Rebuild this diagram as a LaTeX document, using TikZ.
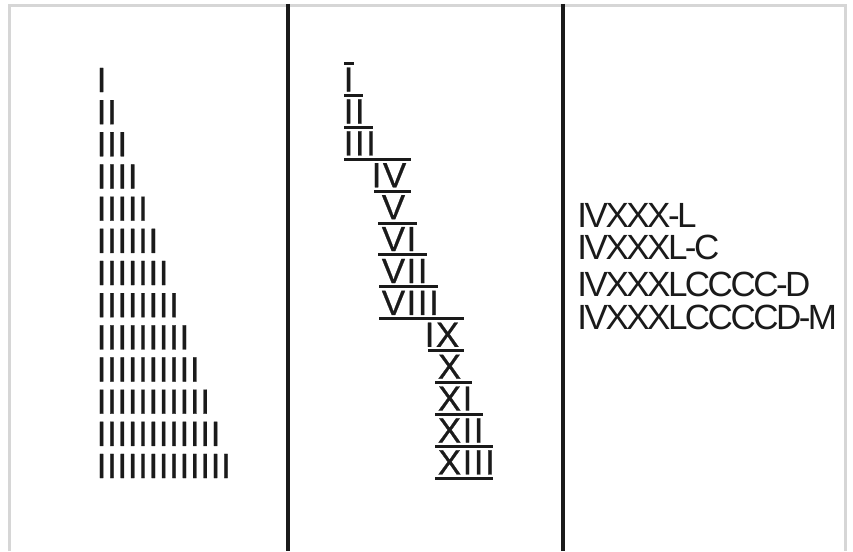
\documentclass[tikz,border=0pt]{standalone}
\usepackage{fontspec}
\setmainfont{Liberation Sans}
\newfontfamily\numfont[FakeBold=0.6]{Liberation Sans}
\newfontfamily\plainfont{Liberation Sans}
\def\lsp#1{\def\lspamt{#1}\lspA}
\def\lspA#1{\ifx#1\relax\else#1\kern\lspamt\expandafter\lspA\fi}
\definecolor{ink}{HTML}{1A1A1A}
\definecolor{framegray}{HTML}{D6D6D6}
\tikzset{
  glyphs/.style={anchor=base west, inner sep=0pt, outer sep=0pt, text=ink, font=\numfont\fontsize{35}{35}\selectfont},
  plainglyphs/.style={glyphs, font=\plainfont\fontsize{35}{35}\selectfont},
  rulebar/.style={line width=3pt, draw=ink},
  divider/.style={line width=4.5pt, draw=ink},
  framebar/.style={line width=3pt, draw=framegray}
}
\begin{document}
\begin{tikzpicture}[x=1pt,y=-1pt]
\useasboundingbox (0,0) rectangle (853,551);
\fill[white] (0,0) rectangle (853,551);
% frame
\draw[framebar] (9.5,551) -- (9.5,5.5) -- (845,5.5) -- (845,551);
% dividers
\draw[divider] (288,4) -- (288,551);
\draw[divider] (563,4) -- (563,551);
% left column tallies
\node[glyphs] (t1) at (96.7,92) {\lsp{0.63pt}I\relax};
\node[glyphs] (t2) at (96.7,124.2) {\lsp{0.63pt}II\relax};
\node[glyphs] (t3) at (96.7,156.3) {\lsp{0.63pt}III\relax};
\node[glyphs] (t4) at (96.7,188.5) {\lsp{0.63pt}IIII\relax};
\node[glyphs] (t5) at (96.7,220.7) {\lsp{0.63pt}IIIII\relax};
\node[glyphs] (t6) at (96.7,252.9) {\lsp{0.63pt}IIIIII\relax};
\node[glyphs] (t7) at (96.7,285.0) {\lsp{0.63pt}IIIIIII\relax};
\node[glyphs] (t8) at (96.7,317.2) {\lsp{0.63pt}IIIIIIII\relax};
\node[glyphs] (t9) at (96.7,349.4) {\lsp{0.63pt}IIIIIIIII\relax};
\node[glyphs] (t10) at (96.7,381.5) {\lsp{0.63pt}IIIIIIIIII\relax};
\node[glyphs] (t11) at (96.7,413.7) {\lsp{0.63pt}IIIIIIIIIII\relax};
\node[glyphs] (t12) at (96.7,445.9) {\lsp{0.63pt}IIIIIIIIIIII\relax};
\node[glyphs] (t13) at (96.7,478.0) {\lsp{0.63pt}IIIIIIIIIIIII\relax};
% middle column rules
\draw[rulebar] (344,63.5) -- (354,63.5);
\draw[rulebar] (344,95.4) -- (363,95.4);
\draw[rulebar] (344,127.3) -- (373,127.3);
\draw[rulebar] (344,159.2) -- (411,159.2);
\draw[rulebar] (374,191.1) -- (411,191.1);
\draw[rulebar] (378,223.0) -- (417,223.0);
\draw[rulebar] (378,254.9) -- (427,254.9);
\draw[rulebar] (379,286.8) -- (438,286.8);
\draw[rulebar] (379,318.7) -- (464,318.7);
\draw[rulebar] (428,350.6) -- (464,350.6);
\draw[rulebar] (435,382.5) -- (472,382.5);
\draw[rulebar] (435,414.4) -- (483,414.4);
\draw[rulebar] (435,446.3) -- (493,446.3);
\draw[rulebar] (435,478.2) -- (493,478.2);
% middle column numerals
\node[glyphs] (r1) at (343.7,91.6) {\lsp{1.5pt}I\relax};
\node[glyphs] (r2) at (343.7,123.5) {\lsp{1.5pt}II\relax};
\node[glyphs] (r3) at (343.7,155.4) {\lsp{1.5pt}III\relax};
\node[glyphs] (r4) at (371.7,187.3) {\lsp{1.5pt}IV\relax};
\node[glyphs] (r5) at (381.8,219.2) {\lsp{1.5pt}V\relax};
\node[glyphs] (r6) at (381.8,251.1) {\lsp{1.5pt}VI\relax};
\node[glyphs] (r7) at (381.8,283.0) {\lsp{1.5pt}VII\relax};
\node[glyphs] (r8) at (381.8,314.9) {\lsp{1.5pt}VIII\relax};
\node[glyphs] (r9) at (424.7,346.8) {\lsp{1.5pt}IX\relax};
\node[glyphs] (r10) at (437.8,378.7) {\lsp{1.5pt}X\relax};
\node[glyphs] (r11) at (437.8,410.6) {\lsp{1.5pt}XI\relax};
\node[glyphs] (r12) at (437.8,442.5) {\lsp{1.5pt}XII\relax};
\node[glyphs] (r13) at (437.8,474.4) {\lsp{1.5pt}XIII\relax};
% right column
\node[plainglyphs] (s1) at (577.4,227) {\lsp{-2.5pt}IVXXX-L\relax};
\node[plainglyphs] (s2) at (577.4,259) {\lsp{-2.5pt}IVXXXL-C\relax};
\node[plainglyphs] (s3) at (577.4,296) {\lsp{-2.5pt}IVXXXLCCCC-D\relax};
\node[plainglyphs] (s4) at (577.4,329) {\lsp{-2.5pt}IVXXXLCCCCD-M\relax};
\end{tikzpicture}
\end{document}
